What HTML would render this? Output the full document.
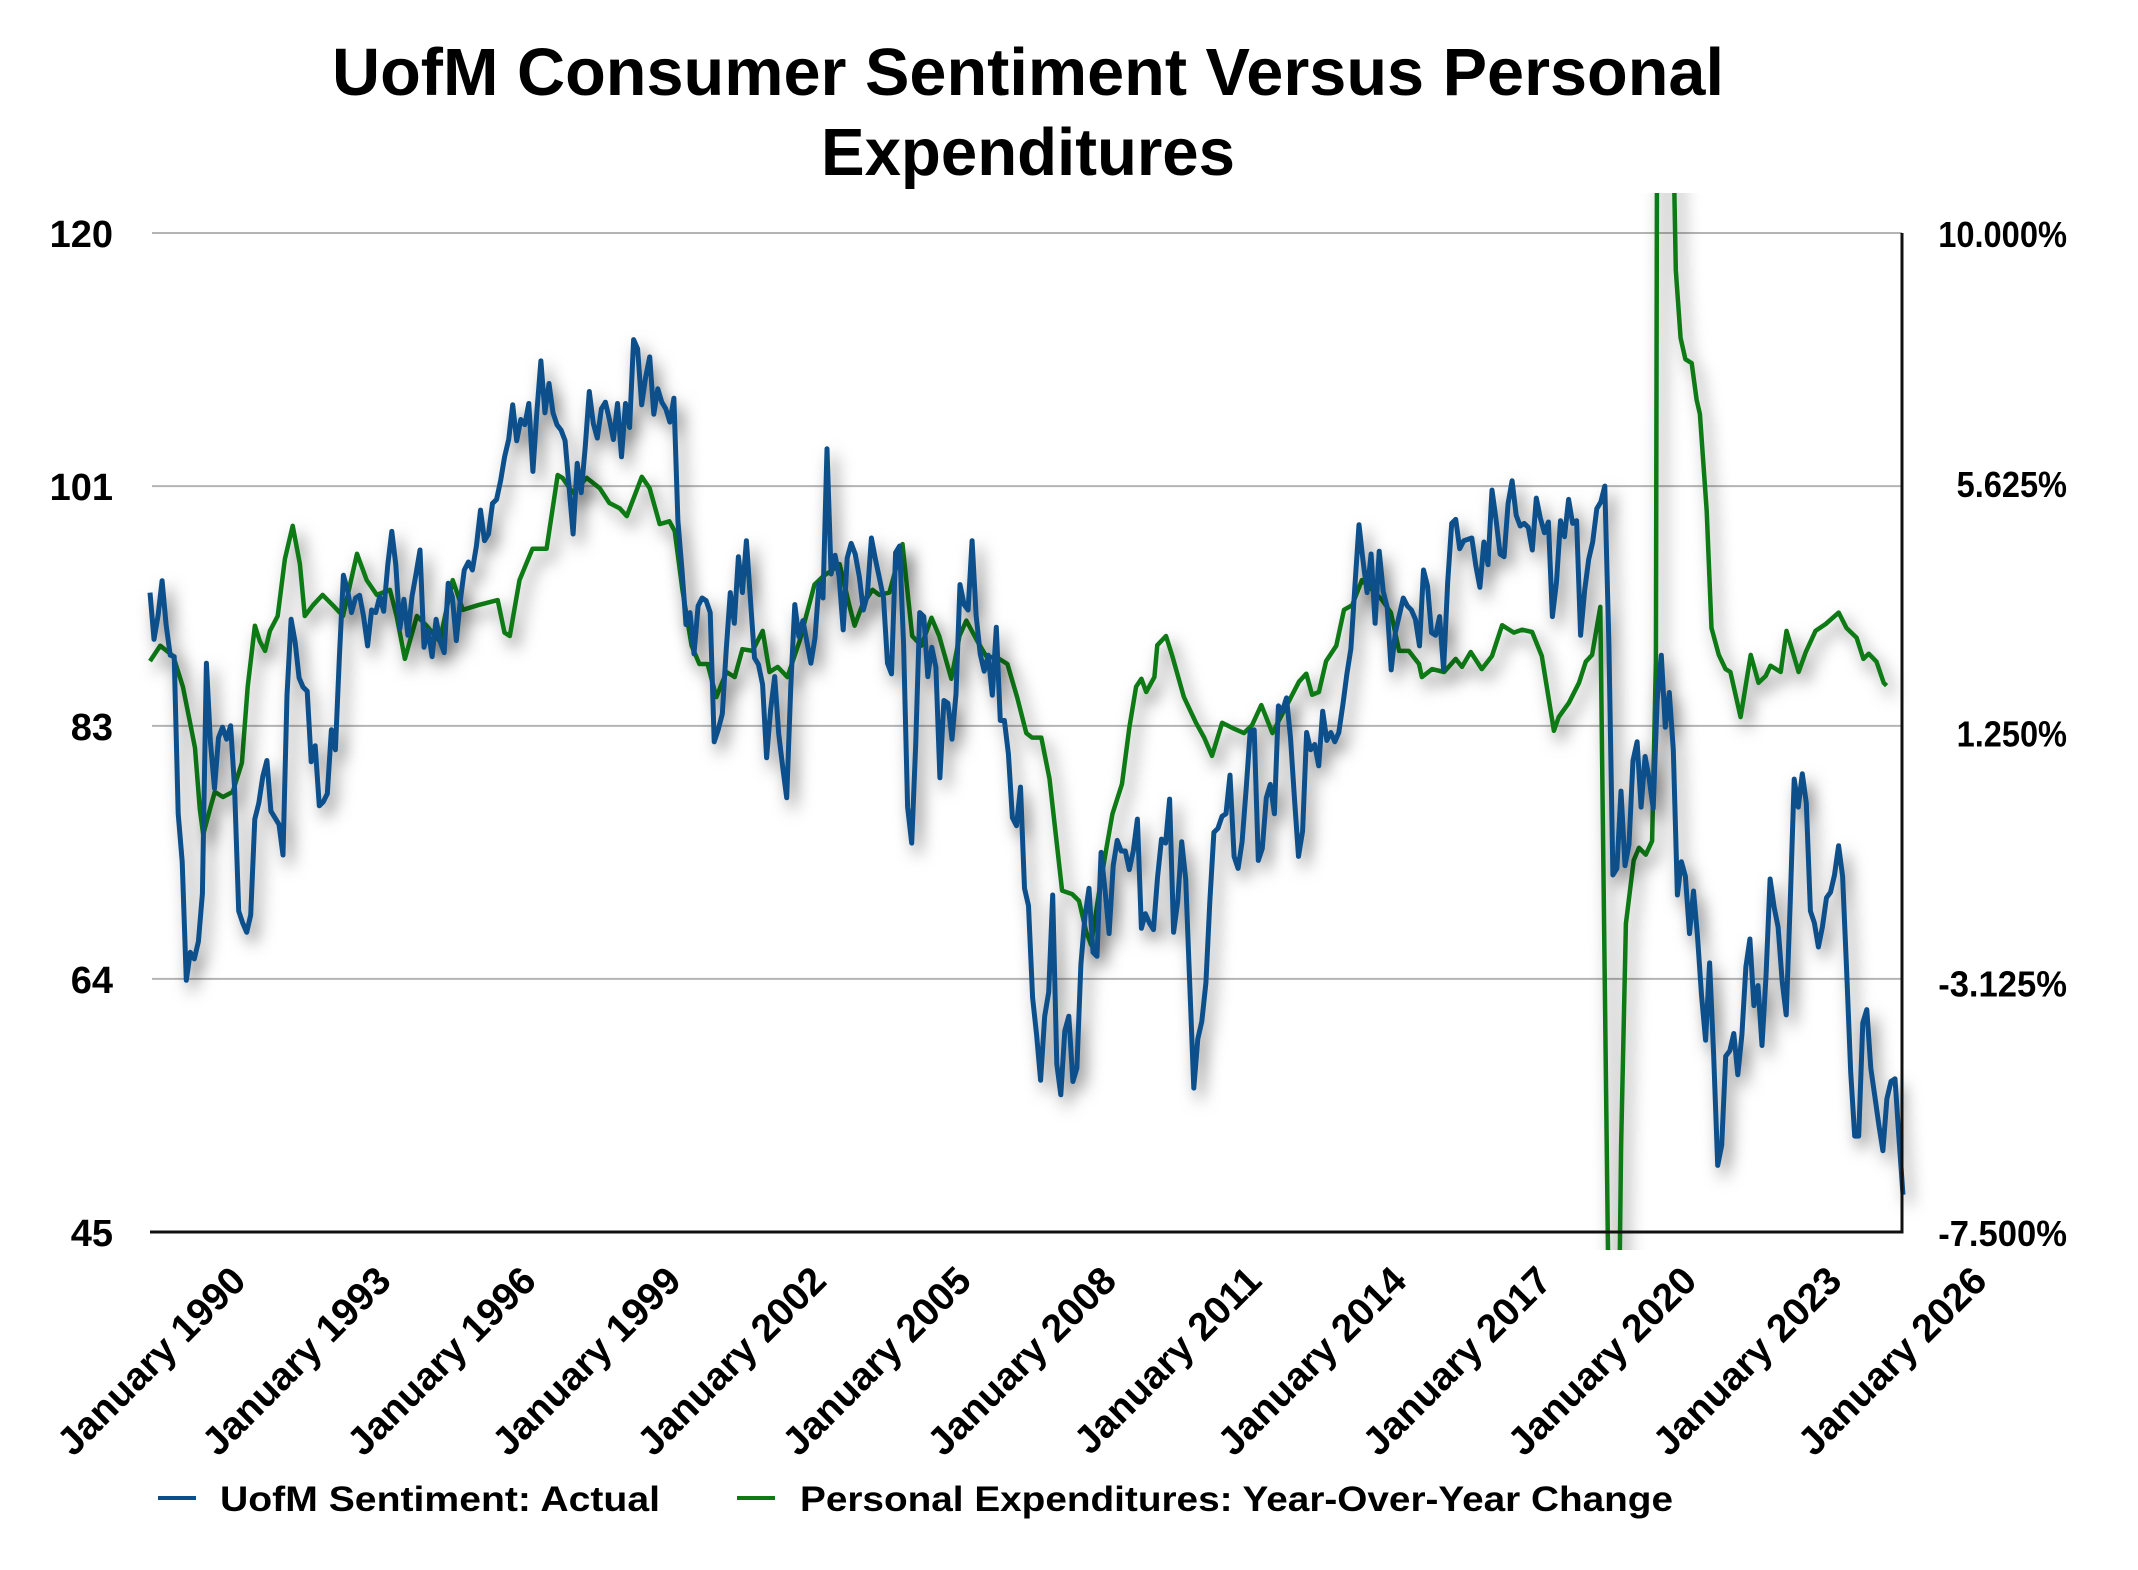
<!DOCTYPE html>
<html><head><meta charset="utf-8"><title>UofM Consumer Sentiment Versus Personal Expenditures</title>
<style>html,body{margin:0;padding:0;background:#fff;width:2138px;height:1570px;overflow:hidden}svg{display:block}text{font-family:"Liberation Sans",Arial,sans-serif;font-weight:bold;fill:#000}</style></head>
<body>
<svg id="chart" xmlns="http://www.w3.org/2000/svg" width="2138" height="1570" viewBox="0 0 2138 1570">
<defs>
<filter id="shadow" x="-10%" y="-10%" width="130%" height="130%"><feDropShadow dx="6" dy="9" stdDeviation="8" flood-color="#000" flood-opacity="0.5"/></filter>
<clipPath id="clipG"><rect x="140" y="193" width="1770" height="1057"/></clipPath>
</defs>
<text x="1028" y="95" font-size="67" text-anchor="middle" textLength="1392" lengthAdjust="spacingAndGlyphs">UofM Consumer Sentiment Versus Personal</text>
<text x="1028" y="175" font-size="67" text-anchor="middle" textLength="414" lengthAdjust="spacingAndGlyphs">Expenditures</text>
<g id="grid"></g>
<g id="series"></g>
<g id="axes"></g>
<g>
<rect x="158" y="1496" width="38" height="4" fill="#0b4f8a"/>
<text x="220" y="1511" font-size="35" textLength="440" lengthAdjust="spacingAndGlyphs">UofM Sentiment: Actual</text>
<rect x="737" y="1496" width="38" height="4" fill="#0f7a12"/>
<text x="800" y="1511" font-size="35" textLength="873" lengthAdjust="spacingAndGlyphs">Personal Expenditures: Year-Over-Year Change</text>
</g>
</svg>
<script>
const leftTicks = [120, 101, 83, 64, 45];
const rightTicks = ["10.000%", "5.625%", "1.250%", "-3.125%", "-7.500%"];
const xTickYears = [1990, 1993, 1996, 1999, 2002, 2005, 2008, 2011, 2014, 2017, 2020, 2023, 2026];
const sentimentStartYear = 1990;
const sentimentValues = [
93.0,89.5,91.3,93.9,90.6,88.3,88.2,76.4,72.8,63.9,66.0,65.5,
66.8,70.4,87.7,81.8,78.3,82.1,82.9,82.0,83.0,78.3,69.1,68.2,
67.5,68.8,76.0,77.2,79.2,80.4,76.6,76.1,75.6,73.3,85.3,91.0,
89.3,86.6,85.9,85.6,80.3,81.5,77.0,77.3,77.9,82.7,81.2,88.2,
94.3,93.2,91.5,92.6,92.8,91.2,89.0,91.7,91.5,92.7,91.6,95.1,
97.6,95.1,90.3,92.5,89.8,92.7,94.4,96.2,88.9,90.2,88.2,91.0,
89.3,88.5,93.7,92.7,89.4,92.4,94.7,95.3,94.7,96.5,99.2,96.9,
97.4,99.7,100.0,101.4,103.2,104.5,107.1,104.4,106.0,105.6,107.2,102.1,
106.6,110.4,106.5,108.7,106.5,105.6,105.2,104.4,100.9,97.4,102.7,100.5,
103.9,108.1,105.7,104.6,106.8,107.3,106.0,104.5,107.2,103.2,107.2,105.4,
112.0,111.3,107.1,109.2,110.7,106.4,108.3,107.3,106.8,105.8,107.6,98.4,
94.7,90.6,91.5,88.4,92.0,92.6,92.4,91.5,81.8,82.7,83.9,88.8,
93.0,90.7,95.7,93.0,96.9,92.4,88.1,87.6,86.1,80.6,84.2,86.7,
82.4,79.9,77.6,86.0,92.1,89.7,90.9,89.3,87.7,89.6,93.7,92.6,
103.8,94.4,95.8,94.2,90.2,95.6,96.7,95.9,94.2,91.7,92.8,97.1,
95.5,94.1,92.6,87.7,86.9,96.0,96.5,89.1,76.9,74.2,81.6,91.5,
91.2,86.7,88.9,87.4,79.1,84.9,84.7,82.0,85.4,93.6,92.1,91.7,
96.9,91.3,88.4,87.1,88.3,85.3,90.4,83.4,83.4,80.9,76.1,75.5,
78.4,70.8,69.5,62.6,59.8,56.4,61.2,63.0,70.3,57.6,55.3,60.1,
61.2,56.3,57.3,65.1,68.7,70.8,66.0,65.7,73.5,70.6,67.4,72.5,
74.4,73.6,73.6,72.2,73.6,76.0,67.8,68.9,68.2,67.7,71.6,74.5,
74.2,77.5,67.5,69.8,74.3,71.5,63.7,55.8,59.5,60.8,63.7,69.9,
75.0,75.3,76.2,76.4,79.3,73.2,72.3,74.3,78.3,82.6,82.7,72.9,
73.8,77.6,78.6,76.4,84.5,84.1,85.1,82.1,77.5,73.2,75.1,82.5,
81.2,81.6,80.0,84.1,81.9,82.5,81.8,82.5,84.6,86.9,88.8,93.6,
98.1,95.4,93.0,95.9,90.7,96.1,93.1,91.9,87.2,90.0,91.3,92.6,
92.0,91.7,91.0,89.0,94.7,93.5,90.0,89.8,91.2,87.2,93.8,98.2,
98.5,96.3,96.9,97.0,97.1,95.0,93.4,96.8,95.1,100.7,98.5,95.9,
95.7,99.7,101.4,98.8,98.0,98.2,97.9,96.2,100.1,98.6,97.5,98.3,
91.2,93.8,98.4,97.2,100.0,98.2,98.4,89.8,93.2,95.5,96.8,99.3,
99.8,101.0,89.1,71.8,72.3,78.1,72.5,74.1,80.4,81.8,76.9,80.7,
79.0,76.8,84.9,88.3,82.9,85.5,81.2,70.3,72.8,71.7,67.4,70.6,
67.2,62.8,59.4,65.2,58.4,50.0,51.5,58.2,58.6,59.9,56.8,59.8,
64.9,67.0,62.0,63.5,59.0,64.2,71.5,69.4,67.9,63.8,61.3,69.7,
79.0,76.9,79.4,77.2,69.1,68.2,66.4,67.9,70.1,70.5,71.8,74.0,
71.7,64.7,57.0,52.2,52.2,60.7,61.7,57.3,55.2,53.0,51.1,55.0,
56.3,56.5,52.0,47.8];
const expYears = [1990.00,1990.21,1990.48,1990.68,1990.83,1990.93,1991.03,1991.10,1991.24,1991.34,1991.51,1991.71,1991.90,1992.02,1992.17,1992.27,1992.38,1992.48,1992.64,1992.79,1992.95,1993.10,1993.20,1993.37,1993.57,1993.78,1993.99,1994.28,1994.48,1994.69,1994.96,1995.10,1995.27,1995.52,1995.72,1995.99,1996.26,1996.47,1996.78,1997.19,1997.33,1997.44,1997.64,1997.91,1998.20,1998.43,1998.53,1998.74,1999.03,1999.30,1999.50,1999.71,1999.86,2000.17,2000.33,2000.54,2000.74,2000.85,2001.01,2001.20,2001.36,2001.53,2001.71,2001.92,2002.09,2002.25,2002.46,2002.67,2002.81,2002.98,2003.18,2003.43,2003.74,2003.91,2004.11,2004.26,2004.46,2004.57,2004.73,2004.94,2005.08,2005.29,2005.56,2005.76,2005.95,2006.16,2006.32,2006.57,2006.74,2006.88,2007.11,2007.29,2007.56,2007.73,2007.93,2008.12,2008.24,2008.43,2008.60,2008.86,2009.07,2009.21,2009.36,2009.46,2009.63,2009.77,2009.90,2010.10,2010.25,2010.39,2010.50,2010.60,2010.77,2010.83,2011.01,2011.14,2011.38,2011.63,2011.80,2011.96,2012.17,2012.38,2012.62,2012.79,2012.98,2013.21,2013.49,2013.76,2013.91,2014.03,2014.17,2014.32,2014.53,2014.69,2014.86,2015.06,2015.27,2015.48,2015.66,2015.83,2016.03,2016.24,2016.30,2016.51,2016.76,2017.00,2017.13,2017.31,2017.54,2017.75,2017.96,2018.20,2018.37,2018.58,2018.78,2019.03,2019.13,2019.34,2019.55,2019.69,2019.82,2019.99,2020.27,2020.42,2020.52,2020.68,2020.79,2020.93,2021.06,2021.14,2021.20,2021.30,2021.45,2021.55,2021.65,2021.75,2021.88,2021.98,2022.05,2022.19,2022.29,2022.44,2022.58,2022.68,2022.89,2023.10,2023.26,2023.41,2023.51,2023.72,2023.84,2024.09,2024.24,2024.44,2024.65,2024.92,2025.08,2025.29,2025.43,2025.54,2025.70,2025.85,2025.91];
const expValues = [2.50,2.77,2.59,2.05,1.42,0.98,-0.09,-0.54,-0.09,0.21,0.12,0.21,0.72,2.05,3.12,2.85,2.68,3.03,3.29,4.29,4.87,4.20,3.29,3.48,3.66,3.48,3.29,4.38,3.92,3.66,3.75,3.29,2.54,3.29,3.12,2.85,3.92,3.40,3.48,3.57,3.00,2.94,3.92,4.47,4.47,5.76,5.71,5.45,5.71,5.53,5.27,5.18,5.04,5.73,5.53,4.90,4.95,4.78,3.75,2.77,2.45,2.45,1.87,2.31,2.22,2.71,2.68,3.03,2.31,2.40,2.22,2.85,3.84,3.98,4.10,4.20,3.48,3.12,3.48,3.75,3.66,3.70,4.55,2.94,2.77,3.26,2.94,2.19,2.94,3.21,2.85,2.59,2.54,2.45,1.87,1.24,1.16,1.16,0.44,-1.52,-1.58,-1.70,-2.24,-2.47,-1.52,-0.81,-0.18,0.35,1.33,2.05,2.19,1.96,2.22,2.78,2.94,2.59,1.87,1.42,1.16,0.84,1.42,1.33,1.24,1.38,1.73,1.24,1.70,2.14,2.28,1.91,1.96,2.50,2.77,3.40,3.48,3.92,3.75,3.57,3.35,2.68,2.68,2.45,2.22,2.36,2.31,2.54,2.40,2.66,2.36,2.59,3.13,3.00,3.05,3.01,2.59,1.28,1.52,1.77,2.12,2.49,2.61,3.45,-16.5,-6.0,-2.10,-0.99,-0.77,-0.89,-0.65,2.49,26.0,27.0,14.0,9.35,8.16,7.79,7.72,7.08,6.83,5.13,3.08,2.61,2.36,2.31,1.52,2.61,2.12,2.24,2.42,2.31,3.03,2.31,2.66,3.03,3.15,3.35,3.08,2.91,2.54,2.63,2.49,2.12,2.07];

const NS = "http://www.w3.org/2000/svg";
const PL = 150, PR = 1902, PT = 233, PB = 1232;
function xScale(yr){ return PL + (yr - 1990) * 48.36; }
function yLeft(v){ return PT + (120 - v) / 75 * (PB - PT); }
function yRight(v){ return PT + (10 - v) / 17.5 * (PB - PT); }
function mk(tag, attrs, parent){ const e = document.createElementNS(NS, tag); for (const k in attrs) e.setAttribute(k, attrs[k]); parent.appendChild(e); return e; }

const grid = document.getElementById('grid');
const axes = document.getElementById('axes');
const series = document.getElementById('series');

leftTicks.forEach((t, i) => {
  const y = yLeft(t);
  if (i < leftTicks.length - 1) {
    const g = mk('line', {x1: 152, x2: PR, y1: y, y2: y, stroke: '#b4b4b4', 'stroke-width': 2}, grid);
    
    
  }
  const tl = mk('text', {x: 113, y: y + 14, 'font-size': 38, 'text-anchor': 'end'}, axes);
  tl.textContent = t;
  
  
});
rightTicks.forEach((t, i) => {
  const y = PT + i * (PB - PT) / 4;
  const w = t.length * 18.4;
  const tr = mk('text', {x: 2067, y: y + 14, 'font-size': 36, 'text-anchor': 'end', textLength: w, lengthAdjust: 'spacingAndGlyphs'}, axes);
  tr.textContent = t;
  
  
});
xTickYears.forEach(yr => {
  const x = xScale(yr);
  const bx = x + 98, by = 1283;
  const tx = mk('text', {x: bx, y: by, 'font-size': 39, 'text-anchor': 'end', transform: 'rotate(-45 ' + bx + ' ' + by + ')'}, axes);
  tx.textContent = 'January ' + yr;
  
  
});
const xa = mk('line', {x1: 150, x2: PR + 1.5, y1: PB, y2: PB, stroke: '#111', 'stroke-width': 3}, axes);


const ra = mk('line', {x1: PR, x2: PR, y1: PT, y2: PB, stroke: '#111', 'stroke-width': 3}, axes);



let gd = '';
expYears.forEach((yr, i) => { gd += (i ? 'L' : 'M') + xScale(yr).toFixed(1) + ',' + yRight(expValues[i]).toFixed(1); });
const gwrap = mk('g', {'clip-path': 'url(#clipG)'}, series);


const gp = mk('path', {d: gd, fill: 'none', stroke: '#0f7a12', 'stroke-width': 4.5, 'stroke-linejoin': 'round', filter: 'url(#shadow)'}, gwrap);



let bd = '';
sentimentValues.forEach((v, i) => { bd += (i ? 'L' : 'M') + xScale(sentimentStartYear + i / 12).toFixed(1) + ',' + yLeft(v).toFixed(1); });
const bp = mk('path', {d: bd, fill: 'none', stroke: '#0b4f8a', 'stroke-width': 5, 'stroke-linejoin': 'round', filter: 'url(#shadow)'}, series);


</script>
</body></html>
